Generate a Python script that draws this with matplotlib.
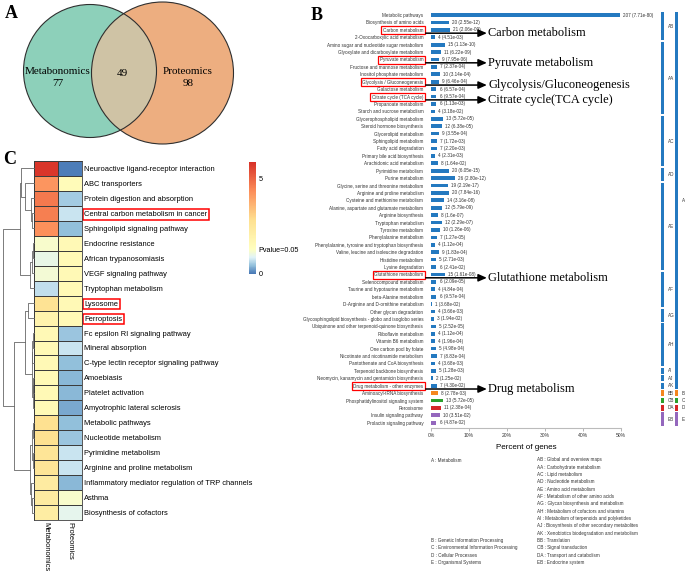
import matplotlib
matplotlib.use("Agg")
import matplotlib.pyplot as plt
import numpy as np
from itertools import groupby
from matplotlib.patches import Circle
from matplotlib.colors import LinearSegmentedColormap, Normalize

plt.rcParams['font.family'] = ['Liberation Sans', 'DejaVu Sans']

###################################################################
# DATA
# A: venn
venn_names = ["Metabonomics", "Proteomics"]
venn_only = [77, 98]
venn_shared = 49

# B: KEGG classification of the proteins
kegg_pathways = [
    "Metabolic pathways", "Biosynthesis of amino acids", "Carbon metabolism",
    "2-Oxocarboxylic acid metabolism", "Amino sugar and nucleotide sugar metabolism",
    "Glyoxylate and dicarboxylate metabolism", "Pyruvate metabolism",
    "Fructose and mannose metabolism", "Inositol phosphate metabolism",
    "Glycolysis / Gluconeogenesis", "Galactose metabolism", "Citrate cycle (TCA cycle)",
    "Propanoate metabolism", "Starch and sucrose metabolism",
    "Glycerophospholipid metabolism", "Steroid hormone biosynthesis",
    "Glycerolipid metabolism", "Sphingolipid metabolism", "Fatty acid degradation",
    "Primary bile acid biosynthesis", "Arachidonic acid metabolism",
    "Pyrimidine metabolism", "Purine metabolism",
    "Glycine, serine and threonine metabolism", "Arginine and proline metabolism",
    "Cysteine and methionine metabolism", "Alanine, aspartate and glutamate metabolism",
    "Arginine biosynthesis", "Tryptophan metabolism", "Tyrosine metabolism",
    "Phenylalanine metabolism", "Phenylalanine, tyrosine and tryptophan biosynthesis",
    "Valine, leucine and isoleucine degradation", "Histidine metabolism",
    "Lysine degradation", "Glutathione metabolism", "Selenocompound metabolism",
    "Taurine and hypotaurine metabolism", "beta-Alanine metabolism",
    "D-Arginine and D-ornithine metabolism", "Other glycan degradation",
    "Glycosphingolipid biosynthesis - globo and isoglobo series",
    "Ubiquinone and other terpenoid-quinone biosynthesis", "Riboflavin metabolism",
    "Vitamin B6 metabolism", "One carbon pool by folate",
    "Nicotinate and nicotinamide metabolism", "Pantothenate and CoA biosynthesis",
    "Terpenoid backbone biosynthesis", "Neomycin, kanamycin and gentamicin biosynthesis",
    "Drug metabolism - other enzymes", "Aminoacyl-tRNA biosynthesis",
    "Phosphatidylinositol signaling system", "Peroxisome",
    "Insulin signaling pathway", "Prolactin signaling pathway",
]
kegg_counts = [207, 20, 21, 4, 15, 11, 9, 7, 10, 9, 6, 6, 6, 4,
               13, 12, 9, 7, 7, 4, 8, 20, 26,
               19, 20, 14, 12, 8, 12, 10, 7, 4, 9, 5, 6,
               15, 6, 4, 6, 1, 4, 3, 5, 4, 4, 5, 7, 4,
               5, 2, 7, 8, 13, 11, 10, 6]
kegg_pvals = ["7.71e-80", "2.55e-12", "2.06e-09", "4.51e-03", "1.13e-10", "6.22e-09",
              "7.95e-06", "2.37e-04", "3.14e-04", "6.46e-04", "6.57e-04", "9.57e-04",
              "1.13e-03", "3.18e-02", "5.72e-05", "6.38e-05", "3.55e-04", "1.72e-03",
              "2.20e-03", "2.31e-03", "1.64e-02", "6.05e-15", "2.80e-12", "2.19e-17",
              "7.84e-16", "3.16e-08", "5.79e-09", "1.6e-07", "2.29e-07", "1.26e-06",
              "1.27e-05", "1.12e-04", "1.83e-04", "2.71e-03", "2.41e-02", "1.61e-08",
              "2.09e-05", "4.84e-04", "9.57e-04", "3.68e-02", "3.66e-03", "1.94e-02",
              "2.52e-05", "1.12e-04", "1.96e-04", "4.98e-04", "8.83e-04", "3.68e-03",
              "1.28e-03", "1.25e-02", "4.30e-02", "2.78e-03", "5.72e-05", "2.38e-04",
              "3.51e-02", "4.87e-02"]
kegg_level2 = (["AB"] * 4 + ["AA"] * 10 + ["AC"] * 7 + ["AD"] * 2 + ["AE"] * 12
               + ["AF"] * 5 + ["AG"] * 2 + ["AH"] * 6
               + ["AI", "AJ", "AK", "BB", "CB", "DA", "EB", "EB"])
total_genes = 416

highlight_rows = ["Carbon metabolism", "Pyruvate metabolism", "Glycolysis / Gluconeogenesis",
                  "Citrate cycle (TCA cycle)", "Glutathione metabolism",
                  "Drug metabolism - other enzymes"]
highlight_notes = ["Carbon metabolism", "Pyruvate metabolism", "Glycolysis/Gluconeogenesis",
                   "Citrate cycle(TCA cycle)", "Glutathione metabolism", "Drug metabolism"]

level1_legend = ["A : Metabolism", "B : Genetic Information Processing",
                 "C : Environmental Information Processing", "D : Cellular Processes",
                 "E : Organismal Systems"]
level2_legend = ["AB : Global and overview maps", "AA : Carbohydrate metabolism",
                 "AC : Lipid metabolism", "AD : Nucleotide metabolism",
                 "AE : Amino acid metabolism", "AF : Metabolism of other amino acids",
                 "AG : Glycan biosynthesis and metabolism",
                 "AH : Metabolism of cofactors and vitamins",
                 "AI : Metabolism of terpenoids and polyketides",
                 "AJ : Biosynthesis of other secondary metabolites",
                 "AK : Xenobiotics biodegradation and metabolism",
                 "BB : Translation", "CB : Signal transduction",
                 "DA : Transport and catabolism", "EB : Endocrine system"]

# C: heatmap of -log10(p)
hm_pathways = [
    "Neuroactive ligand-receptor interaction", "ABC transporters",
    "Protein digestion and absorption", "Central carbon metabolism in cancer",
    "Sphingolipid signaling pathway", "Endocrine resistance", "African trypanosomiasis",
    "VEGF signaling pathway", "Tryptophan metabolism", "Lysosome", "Ferroptosis",
    "Fc epsilon RI signaling pathway", "Mineral absorption",
    "C-type lectin receptor signaling pathway", "Amoebiasis", "Platelet activation",
    "Amyotrophic lateral sclerosis", "Metabolic pathways", "Nucleotide metabolism",
    "Pyrimidine metabolism", "Arginine and proline metabolism",
    "Inflammatory mediator regulation of TRP channels", "Asthma",
    "Biosynthesis of cofactors",
]
hm_columns = ["Metabonomics", "Proteomics"]
hm_metab = [5.8, 4.2, 4.7, 4.6, 4.3, 1.2, 1.0, 1.15, 0.7, 2.7, 1.9, 1.6, 1.6, 1.6,
            1.6, 1.6, 1.6, 2.8, 2.8, 2.6, 2.6, 2.3, 2.3, 2.2]
hm_prot = [0.05, 1.5, 0.55, 0.75, 0.45, 1.6, 1.6, 1.6, 1.6, 1.6, 1.6, 0.5, 0.75, 0.45,
           0.4, 0.4, 0.3, 0.45, 0.5, 0.75, 0.75, 0.4, 1.2, 0.95]
hm_boxed = ["Central carbon metabolism in cancer", "Lysosome", "Ferroptosis"]
pvalue_cut = 1.3   # -log10(0.05)
hm_vmax = 5.9
# row clustering: (child a, child b, height); new nodes numbered after the leaves
hm_linkage = [
    (3, 4, 0.06), (2, 24, 0.10), (1, 25, 0.28), (0, 26, 0.42),
    (5, 6, 0.04), (28, 7, 0.07), (29, 8, 0.12), (27, 30, 0.46),
    (9, 10, 0.18), (11, 12, 0.03), (33, 13, 0.05), (14, 15, 0.02),
    (35, 16, 0.04), (34, 36, 0.08), (32, 37, 0.30),
    (17, 18, 0.02), (19, 20, 0.03), (39, 40, 0.07), (22, 23, 0.06),
    (21, 42, 0.09), (41, 43, 0.12), (38, 44, 0.65), (31, 45, 1.0),
]
###################################################################

W, H = 685, 582


def px_box(x0, y0, x1, y1):
    # pixel box with top-left origin -> figure fraction
    return [x0 / W, 1 - y1 / H, (x1 - x0) / W, (y1 - y0) / H]


fig = plt.figure(figsize=(W / 100, H / 100), dpi=100)
serif = "Liberation Serif"
small = 3.3
txt_col = "#333333"

for letter, (lx, ly) in zip("ABC", [(5, 14), (311, 15), (3, 160)]):
    fig.text(lx / W, 1 - ly / H, letter, fontsize=13, weight="bold", family=serif, va="center")

# ---------------- A: venn ----------------
axA = fig.add_axes(px_box(0, 0, 330, 150))
axA.set_xlim(0, 330)
axA.set_ylim(150, 0)
axA.axis("off")
left_c = Circle((90, 71), 66.5, fc="#8dd0ba", ec="none")
right_c = Circle((162.5, 73), 71, fc="#edae80", ec="none")
axA.add_patch(left_c)
axA.add_patch(right_c)
both = Circle((90, 71), 66.5, fc="#cfc3a5", ec="none")
axA.add_patch(both)
both.set_clip_path(right_c)
for c in [left_c, right_c]:
    axA.add_patch(Circle(c.center, c.radius, fill=False, ec="#2f2f2f", lw=0.8))
vfs = 8
axA.text(58, 71, venn_names[0], ha="center", va="center", family=serif, fontsize=vfs)
axA.text(58, 83, str(venn_only[0]), ha="center", va="center", family=serif, fontsize=vfs)
axA.text(122, 73, str(venn_shared), ha="center", va="center", family=serif, fontsize=vfs)
axA.text(188, 71, venn_names[1], ha="center", va="center", family=serif, fontsize=vfs)
axA.text(188, 83, str(venn_only[1]), ha="center", va="center", family=serif, fontsize=vfs)

# ---------------- B: KEGG bars ----------------
level_colors = {"A": "#2479c0", "B": "#f5871f", "C": "#2ca02c", "D": "#d62728", "E": "#9467bd"}
n = len(kegg_pathways)
ypos = np.arange(n)
pct = np.array(kegg_counts) / total_genes * 100
bar_cols = [level_colors[c[0]] for c in kegg_level2]

axB = fig.add_axes(px_box(431, 11.3, 621, 428.3))
axB.barh(ypos, pct, height=0.5, color=bar_cols)
axB.set_xlim(0, 50)
axB.set_ylim(n - 0.25, -0.5)
axB.set_yticks(ypos)
axB.set_yticklabels(kegg_pathways, fontsize=small, color=txt_col)
axB.tick_params(axis="y", length=0, pad=5.5)
axB.set_xticks([0, 10, 20, 30, 40, 50])
axB.set_xticklabels(["0%", "10%", "20%", "30%", "40%", "50%"], fontsize=3.6, color=txt_col)
axB.tick_params(axis="x", length=2, width=0.5, color="#999999", pad=1.5)
axB.set_xlabel("Percent of genes", fontsize=5.8, labelpad=4)
for s in ["left", "top", "right"]:
    axB.spines[s].set_visible(False)
axB.spines["bottom"].set_color("#bbbbbb")
axB.spines["bottom"].set_linewidth(0.8)

for i, (p, c, pv) in enumerate(zip(pct, kegg_counts, kegg_pvals)):
    axB.text(p + 0.8, i, f"{c} ({pv})", va="center", fontsize=small, color=txt_col)

for lab in axB.get_yticklabels():
    if lab.get_text() in highlight_rows:
        lab.set_bbox(dict(boxstyle="square,pad=0.3", fc="none", ec="red", lw=0.9))

for name, note in zip(highlight_rows, highlight_notes):
    yy = kegg_pathways.index(name) + 0.45
    axB.annotate("", xy=(14.7, yy), xytext=(-1.4, yy), annotation_clip=False,
                 arrowprops=dict(arrowstyle="-|>,head_length=0.5,head_width=0.22",
                                 color="black", lw=1.1, shrinkA=0, shrinkB=0))
    axB.text(15.1, yy, note, fontsize=8.9, family=serif, va="center")

# category side bars
axK = fig.add_axes(px_box(661, 11.3, 685, 428.3))
axK.set_xlim(0, 24)
axK.set_ylim(n - 0.25, -0.5)
axK.axis("off")
for level_of, bx, tx in [(lambda s: s, 1.5, 6.5), (lambda s: s[0], 15.5, 20.5)]:
    for key, grp in groupby(enumerate(kegg_level2), key=lambda t: level_of(t[1])):
        rows = [g[0] for g in grp]
        start, end = rows[0], rows[-1]
        axK.bar(bx, end - start + 0.8, bottom=start - 0.4, width=3,
                color=level_colors[key[0]])
        axK.text(tx, (start + end) / 2, key, fontsize=small, va="center", color=txt_col)

# legend text
row_h = 7.33
level1_rows = [0, 11, 12, 13, 14]
for r, t in zip(level1_rows, level1_legend):
    fig.text(431 / W, 1 - (460 + r * row_h) / H, t, fontsize=small, va="center", color=txt_col)
for r, t in enumerate(level2_legend):
    fig.text(537 / W, 1 - (460 + r * row_h) / H, t, fontsize=small, va="center", color=txt_col)

# ---------------- C: heatmap ----------------
pb_cols = ["#4575B4", "#91BFDB", "#E0F3F8", "#FFFFBF", "#FEE090", "#FC8D59", "#D73027"]
c_frac = pvalue_cut / hm_vmax
pos = list(np.linspace(0, c_frac, 4)) + list(np.linspace(c_frac, 1, 4))[1:]
pv_cmap = LinearSegmentedColormap.from_list("pv", list(zip(pos, pb_cols)))
pv_norm = Normalize(0, hm_vmax)

narrow = ["Liberation Sans Narrow", "Liberation Sans"]
hfs = 5.4
nh = len(hm_pathways)
hm_data = np.column_stack([hm_metab, hm_prot])

axH = fig.add_axes(px_box(34, 161, 82.3, 520))
mesh = axH.pcolormesh(hm_data, cmap=pv_cmap, norm=pv_norm, edgecolors="#3c3c3c", linewidth=0.6)
axH.set_xlim(0, 2)
axH.set_ylim(nh, 0)
axH.yaxis.tick_right()
axH.set_yticks(np.arange(nh) + 0.5)
axH.set_yticklabels(hm_pathways, fontsize=hfs, family=narrow)
axH.set_xticks([0.5, 1.5])
axH.set_xticklabels(hm_columns, fontsize=hfs, family=narrow, rotation=-90, va="top")
axH.tick_params(length=0, pad=1.5)
for s in axH.spines.values():
    s.set_color("#3c3c3c")
    s.set_linewidth(0.6)
for lab in axH.get_yticklabels():
    if lab.get_text() in hm_boxed:
        lab.set_bbox(dict(boxstyle="square,pad=0.25", fc="none", ec="red", lw=1.1))

# dendrogram
axD = fig.add_axes(px_box(3, 161, 34, 520))
axD.set_xlim(1.0, 0.0)
axD.set_ylim(nh, 0)
axD.axis("off")
node_y = {i: i + 0.5 for i in range(nh)}
node_h = {i: 0.0 for i in range(nh)}
for k, (a, b, h) in enumerate(hm_linkage):
    axD.plot([node_h[a], h, h, node_h[b]], [node_y[a], node_y[a], node_y[b], node_y[b]],
             color="#666666", lw=0.6, clip_on=False)
    node_y[nh + k] = (node_y[a] + node_y[b]) / 2
    node_h[nh + k] = h

# colorbar
cax = fig.add_axes(px_box(249, 161.7, 256, 274))
cb = fig.colorbar(mesh, cax=cax, ticks=[0, pvalue_cut, 5])
cb.outline.set_visible(False)
cb.ax.set_yticklabels(["0", "Pvalue=0.05", "5"], fontsize=5.2, family=narrow)
cb.ax.tick_params(length=0, pad=2)

fig.savefig("out.png", dpi=100)
